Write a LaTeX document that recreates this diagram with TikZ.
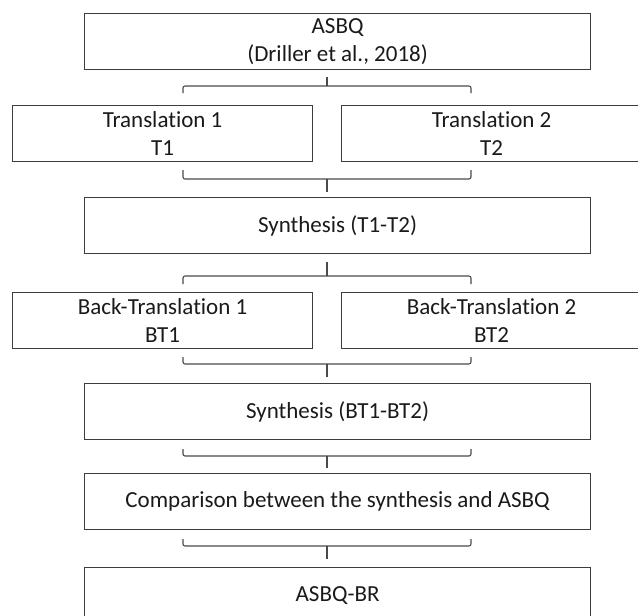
\documentclass[tikz,border=0pt]{standalone}
\usepackage{fontspec}
\setmainfont{Carlito}[Ligatures=NoCommon]
\definecolor{boxc}{HTML}{3C3C3C}
\definecolor{bracec}{HTML}{4A4A4A}
\definecolor{txtc}{HTML}{1A1A1A}
\begin{document}
\begin{tikzpicture}[x=1pt,y=-1pt,
  box/.style={draw=boxc, line width=1.2pt, anchor=north west, minimum height=56pt,
    inner sep=0pt, align=center, text=txtc, font=\fontsize{23}{28}\selectfont},
  wide/.style={box, minimum width=506pt},
  half/.style={box, minimum width=300pt},
  brace/.style={draw=bracec, line width=1.1pt, rounded corners=2pt},
  stem/.style={draw=bracec, line width=1.1pt}]
\useasboundingbox (0,0) rectangle (638,616);
\fill[white] (0,0) rectangle (638,616);

% boxes
\node[wide] (asbq) at (84,13) {ASBQ\\(Driller et al., 2018)};
\node[half] (t1) at (12,105) {Translation 1\\T1};
\node[half] (t2) at (341,105) {Translation 2\\T2};
\node[wide] (s1) at (84,197) {Synthesis (T1-T2)};
\node[half] (bt1) at (12,292) {Back-Translation 1\\BT1};
\node[half] (bt2) at (341,292) {Back-Translation 2\\BT2};
\node[wide] (s2) at (84,383) {Synthesis (BT1-BT2)};
\node[wide] (cmp) at (84,473) {Comparison between the synthesis and ASBQ};
\node[wide] (out) at (84,567) {ASBQ-BR};

% brace 1: asbq -> t1, t2 (split)
\coordinate (b1s) at (327,77);
\coordinate (b1m) at (327,86);
\coordinate (b1l) at (183,93);
\coordinate (b1r) at (471,93);
\draw[stem] (b1s) -- (b1m);
\draw[brace] (b1l) -- (b1l |- b1m) -- (b1r |- b1m) -- (b1r);

% brace 2: t1, t2 -> s1 (merge)
\coordinate (b2l) at (183,170);
\coordinate (b2r) at (471,170);
\coordinate (b2m) at (327,179);
\coordinate (b2s) at (327,192);
\draw[brace] (b2l) -- (b2l |- b2m) -- (b2r |- b2m) -- (b2r);
\draw[stem] (b2m) -- (b2s);

% brace 3: s1 -> bt1, bt2 (split)
\coordinate (b3s) at (327,262);
\coordinate (b3m) at (327,276);
\coordinate (b3l) at (183,284);
\coordinate (b3r) at (471,284);
\draw[stem] (b3s) -- (b3m);
\draw[brace] (b3l) -- (b3l |- b3m) -- (b3r |- b3m) -- (b3r);

% brace 4: bt1, bt2 -> s2 (merge)
\coordinate (b4l) at (183,357);
\coordinate (b4r) at (471,357);
\coordinate (b4m) at (327,364);
\coordinate (b4s) at (327,377);
\draw[brace] (b4l) -- (b4l |- b4m) -- (b4r |- b4m) -- (b4r);
\draw[stem] (b4m) -- (b4s);

% brace 5: s2 -> cmp
\coordinate (b5l) at (183,449);
\coordinate (b5r) at (471,449);
\coordinate (b5m) at (327,456);
\coordinate (b5s) at (327,468);
\draw[brace] (b5l) -- (b5l |- b5m) -- (b5r |- b5m) -- (b5r);
\draw[stem] (b5m) -- (b5s);

% brace 6: cmp -> out
\coordinate (b6l) at (183,539);
\coordinate (b6r) at (471,539);
\coordinate (b6m) at (327,546);
\coordinate (b6s) at (327,559);
\draw[brace] (b6l) -- (b6l |- b6m) -- (b6r |- b6m) -- (b6r);
\draw[stem] (b6m) -- (b6s);
\end{tikzpicture}
\end{document}
